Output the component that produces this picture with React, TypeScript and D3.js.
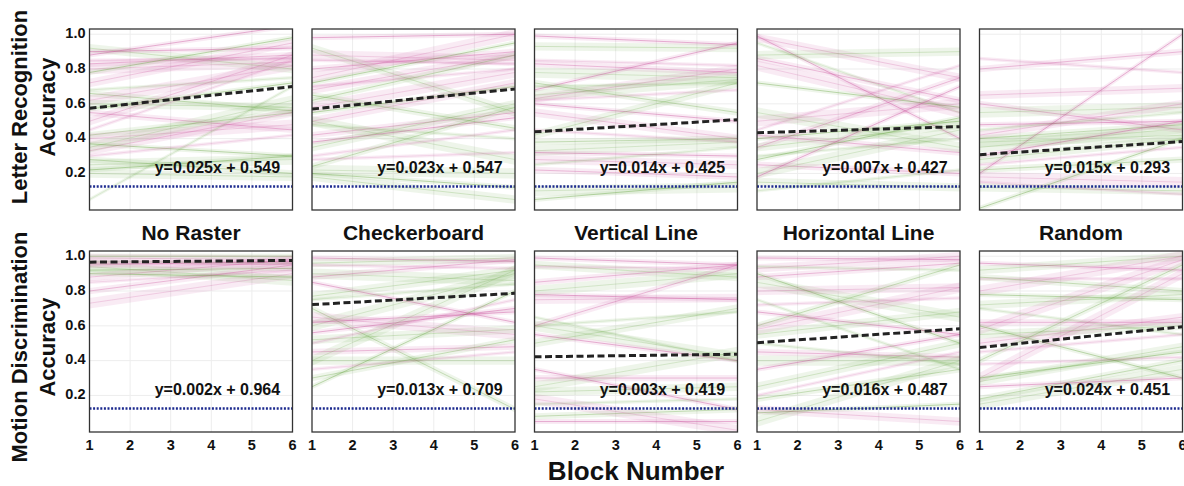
import React from 'react';
import { scaleLinear, line } from 'd3';

const width = 1184;
const height = 486;

const conditions = ['No Raster', 'Checkerboard', 'Vertical Line', 'Horizontal Line', 'Random'];
const taskLines = [
  ['Letter Recognition', 'Accuracy'],
  ['Motion Discrimination', 'Accuracy'],
];
const blocks = [1, 2, 3, 4, 5, 6];
const yTicks = [0.2, 0.4, 0.6, 0.8, 1.0];
const fitSlopes = [
  [0.025, 0.023, 0.014, 0.007, 0.015],
  [0.002, 0.013, 0.003, 0.016, 0.024],
];
const fitIntercepts = [
  [0.549, 0.547, 0.425, 0.427, 0.293],
  [0.964, 0.709, 0.419, 0.487, 0.451],
];
const chanceLevel = 0.125;

// per participant trend: [accuracy at block 1, accuracy at block 6, group]
type Trend = [number, number, string];

const lrNoRaster: Trend[] = [
  [0.88, 1.05, 'p'], [0.92, 0.8, 'g'], [0.85, 0.86, 'p'], [0.83, 0.88, 'p'], [0.8, 0.84, 'p'],
  [0.78, 0.98, 'g'], [0.72, 0.95, 'p'], [0.68, 0.75, 'g'], [0.66, 0.56, 'g'], [0.62, 0.82, 'p'],
  [0.57, 0.72, 'g'], [0.5, 0.88, 'p'], [0.45, 0.85, 'p'], [0.42, 0.55, 'g'], [0.4, 0.48, 'p'],
  [0.37, 0.3, 'g'], [0.33, 0.55, 'p'], [0.3, 0.42, 'p'], [0.28, 0.2, 'g'], [0.25, 0.28, 'g'],
  [0.22, 0.3, 'g'], [0.2, 0.18, 'g'], [0.05, 0.7, 'g'], [0.55, 0.45, 'p'], [0.35, 0.62, 'g'],
  [0.9, 0.92, 'p'], [0.6, 0.58, 'g'],
];
const lrCheckerboard: Trend[] = [
  [0.98, 1.0, 'p'], [0.92, 0.55, 'g'], [0.85, 0.83, 'p'], [0.8, 0.9, 'p'], [0.75, 1.0, 'p'],
  [0.72, 0.95, 'g'], [0.68, 0.88, 'p'], [0.7, 0.8, 'p'], [0.62, 0.88, 'g'], [0.58, 0.78, 'p'],
  [0.55, 0.7, 'g'], [0.5, 0.72, 'p'], [0.48, 0.4, 'g'], [0.42, 0.55, 'p'], [0.5, 0.28, 'g'],
  [0.38, 0.52, 'p'], [0.35, 0.6, 'g'], [0.3, 0.45, 'p'], [0.24, 0.58, 'g'], [0.22, 0.2, 'g'],
  [0.2, 0.12, 'g'], [0.18, 0.05, 'g'], [0.28, 0.32, 'p'], [0.65, 0.46, 'g'], [0.88, 0.85, 'p'],
];
const lrVertical: Trend[] = [
  [0.99, 0.94, 'p'], [0.93, 0.92, 'g'], [0.85, 0.82, 'p'], [0.83, 0.78, 'p'], [0.78, 0.75, 'g'],
  [0.68, 0.95, 'p'], [0.63, 0.8, 'p'], [0.62, 0.68, 'p'], [0.72, 0.55, 'g'], [0.65, 0.74, 'g'],
  [0.6, 0.5, 'p'], [0.42, 0.72, 'g'], [0.45, 0.38, 'p'], [0.38, 0.4, 'g'], [0.33, 0.38, 'g'],
  [0.32, 0.3, 'p'], [0.28, 0.25, 'p'], [0.25, 0.35, 'g'], [0.22, 0.18, 'p'], [0.1, 0.12, 'g'],
  [0.05, 0.15, 'g'], [0.55, 0.4, 'p'], [0.7, 0.72, 'g'],
];
const lrHorizontal: Trend[] = [
  [0.99, 0.4, 'p'], [0.98, 0.75, 'p'], [0.95, 0.55, 'g'], [0.86, 0.62, 'p'], [0.82, 0.55, 'p'],
  [0.72, 0.58, 'g'], [0.88, 0.9, 'g'], [0.45, 0.82, 'p'], [0.35, 0.75, 'p'], [0.5, 0.6, 'p'],
  [0.4, 0.5, 'g'], [0.35, 0.48, 'g'], [0.3, 0.4, 'g'], [0.25, 0.2, 'p'], [0.2, 0.45, 'g'],
  [0.18, 0.7, 'p'], [0.15, 0.12, 'g'], [0.1, 0.22, 'g'], [0.42, 0.32, 'p'], [0.55, 0.35, 'g'],
  [0.28, 0.52, 'g'],
];
const lrRandom: Trend[] = [
  [0.2, 1.0, 'p'], [0.65, 0.69, 'p'], [0.86, 0.78, 'p'], [0.6, 0.45, 'p'], [0.55, 0.58, 'g'],
  [0.48, 0.5, 'p'], [0.42, 0.6, 'p'], [0.45, 0.55, 'g'], [0.4, 0.48, 'g'], [0.35, 0.46, 'g'],
  [0.3, 0.5, 'p'], [0.28, 0.4, 'g'], [0.25, 0.35, 'p'], [0.22, 0.28, 'g'], [0.18, 0.15, 'p'],
  [0.0, 0.4, 'g'], [0.12, 0.1, 'g'], [0.15, 0.08, 'p'], [0.8, 0.9, 'p'], [0.38, 0.42, 'g'],
];
const mdNoRaster: Trend[] = [
  [1.0, 1.0, 'g'], [0.99, 0.98, 'p'], [0.97, 0.96, 'g'], [0.95, 0.97, 'p'], [0.94, 0.86, 'g'],
  [0.92, 0.93, 'g'], [0.88, 0.98, 'p'], [0.85, 0.92, 'p'], [0.8, 0.95, 'p'], [0.73, 0.9, 'p'],
  [0.9, 0.88, 'g'], [0.96, 0.95, 'p'],
];
const mdCheckerboard: Trend[] = [
  [0.99, 0.97, 'p'], [0.96, 0.99, 'g'], [0.95, 0.93, 'p'], [0.88, 0.98, 'p'], [0.9, 0.86, 'g'],
  [0.85, 0.62, 'p'], [0.77, 0.92, 'g'], [0.75, 0.84, 'g'], [0.7, 0.12, 'g'], [0.6, 0.9, 'g'],
  [0.56, 0.7, 'p'], [0.52, 0.58, 'g'], [0.5, 0.75, 'p'], [0.45, 0.48, 'p'], [0.4, 0.92, 'g'],
  [0.25, 0.8, 'g'], [0.4, 0.4, 'g'], [0.35, 0.45, 'p'], [0.3, 0.52, 'g'], [0.65, 0.55, 'p'],
  [0.62, 0.68, 'p'],
];
const mdVertical: Trend[] = [
  [0.99, 0.95, 'p'], [0.95, 0.88, 'g'], [0.94, 0.93, 'p'], [0.85, 0.95, 'p'], [0.8, 0.9, 'g'],
  [0.78, 0.75, 'p'], [0.75, 0.76, 'p'], [0.6, 0.68, 'g'], [0.6, 0.95, 'p'], [0.6, 0.42, 'g'],
  [0.55, 0.4, 'p'], [0.5, 0.7, 'g'], [0.65, 0.4, 'g'], [0.3, 0.3, 'p'], [0.25, 0.45, 'g'],
  [0.35, 0.12, 'p'], [0.22, 0.25, 'g'], [0.15, 0.18, 'g'], [0.08, 0.12, 'g'], [0.18, 0.0, 'p'],
  [0.05, 0.05, 'p'],
];
const mdHorizontal: Trend[] = [
  [0.99, 0.98, 'p'], [0.93, 1.0, 'p'], [0.94, 0.92, 'g'], [0.88, 0.96, 'p'], [0.85, 0.65, 'g'],
  [0.9, 0.5, 'g'], [0.8, 0.82, 'p'], [0.72, 0.76, 'p'], [0.6, 0.95, 'g'], [0.58, 0.82, 'p'],
  [0.68, 0.55, 'p'], [0.55, 0.68, 'g'], [0.5, 0.38, 'g'], [0.45, 0.42, 'p'], [0.4, 0.4, 'g'],
  [0.35, 0.55, 'p'], [0.25, 0.5, 'g'], [0.2, 0.45, 'p'], [0.18, 0.35, 'g'], [0.05, 0.4, 'g'],
  [0.1, 0.15, 'g'], [0.12, 0.05, 'p'], [0.75, 0.35, 'g'],
];
const mdRandom: Trend[] = [
  [0.96, 0.92, 'p'], [0.92, 1.0, 'g'], [0.87, 0.87, 'p'], [0.88, 0.8, 'g'], [0.8, 1.0, 'p'],
  [0.78, 0.75, 'g'], [0.72, 0.78, 'g'], [0.7, 0.55, 'g'], [0.62, 0.62, 'p'], [0.58, 0.98, 'p'],
  [0.6, 0.3, 'g'], [0.5, 0.65, 'p'], [0.45, 0.55, 'p'], [0.4, 0.95, 'g'], [0.3, 0.9, 'p'],
  [0.3, 0.45, 'g'], [0.28, 0.48, 'g'], [0.38, 0.42, 'p'], [0.18, 0.4, 'g'], [0.15, 0.35, 'g'],
  [0.25, 0.3, 'p'], [0.55, 0.6, 'g'],
];

const trends = [
  [lrNoRaster, lrCheckerboard, lrVertical, lrHorizontal, lrRandom],
  [mdNoRaster, mdCheckerboard, mdVertical, mdHorizontal, mdRandom],
];

const panelLeft = 89.5;
const panelStep = 222.5;
const panelW = 203;
const panelH = 181;
const rowTops = [29, 251];
const font = "'Liberation Sans', Arial, Helvetica, sans-serif";
const groupColor: Record<string, string> = { p: '#c94a98', g: '#66a640' };
const lineAlpha = [0.4, 0.24, 0.15, 0.32, 0.2];
const bandHalf = [0.014, 0.024, 0.01, 0.018, 0.03];

function Panel({ row, col }: { row: number; col: number }) {
  const left = panelLeft + col * panelStep;
  const top = rowTops[row];
  const x = scaleLinear().domain([1, 6]).range([0, panelW]);
  const y = scaleLinear().domain([-0.01, 1.03]).range([panelH, 0]);
  const path = line<[number, number]>()
    .x((d) => x(d[0]))
    .y((d) => y(d[1]));
  const slope = fitSlopes[row][col];
  const intercept = fitIntercepts[row][col];
  const clipId = `clip-${row}-${col}`;

  return (
    <g transform={`translate(${left},${top})`}>
      <clipPath id={clipId}>
        <rect x={0} y={0} width={panelW} height={panelH} />
      </clipPath>
      <rect width={panelW} height={panelH} fill="#fff" />
      {blocks.slice(1, -1).map((b) => (
        <line key={'gx' + b} x1={x(b)} x2={x(b)} y1={0} y2={panelH} stroke="#ededed" strokeWidth={1} />
      ))}
      {yTicks.map((t) => (
        <line key={'gy' + t} x1={0} x2={panelW} y1={y(t)} y2={y(t)} stroke="#ededed" strokeWidth={1} />
      ))}
      <g clipPath={`url(#${clipId})`}>
        {trends[row][col].map((d, i) => {
          const w = bandHalf[i % bandHalf.length];
          const band: [number, number][] = [
            [1, d[0] + w],
            [6, d[1] + w],
            [6, d[1] - w],
            [1, d[0] - w],
          ];
          return (
            <g key={i}>
              <path d={path(band) + 'Z'} fill={groupColor[d[2]]} fillOpacity={0.11} />
              <path
                d={path([[1, d[0]], [6, d[1]]]) || ''}
                stroke={groupColor[d[2]]}
                strokeOpacity={lineAlpha[i % lineAlpha.length]}
                strokeWidth={1}
                fill="none"
              />
            </g>
          );
        })}
        <line
          x1={0}
          x2={panelW}
          y1={y(chanceLevel)}
          y2={y(chanceLevel)}
          stroke="#1c2a8f"
          strokeWidth={2.6}
          strokeDasharray="2,1.6"
        />
        <path
          d={path([[1, slope * 1 + intercept], [6, slope * 6 + intercept]]) || ''}
          stroke="#222"
          strokeWidth={3}
          strokeDasharray="7,3.5"
          fill="none"
        />
      </g>
      <text
        x={x(4.15)}
        y={y(0.225)}
        textAnchor="middle"
        dominantBaseline="middle"
        fontFamily={font}
        fontWeight="bold"
        fontSize={16}
        fill="#111"
      >
        {`y=${slope.toFixed(3)}x + ${intercept.toFixed(3)}`}
      </text>
      <rect width={panelW} height={panelH} fill="none" stroke="#333" strokeWidth={1.3} />
      {col === 0 &&
        yTicks.map((t) => (
          <text
            key={'ty' + t}
            x={-4}
            y={y(t)}
            textAnchor="end"
            dominantBaseline="middle"
            fontFamily={font}
            fontWeight="bold"
            fontSize={14.5}
            fill="#111"
          >
            {t.toFixed(1)}
          </text>
        ))}
      {row === 1 &&
        blocks.map((b) => (
          <text
            key={'tx' + b}
            x={x(b)}
            y={panelH + 18}
            textAnchor="middle"
            fontFamily={font}
            fontWeight="bold"
            fontSize={14.5}
            fill="#111"
          >
            {b}
          </text>
        ))}
    </g>
  );
}

export default function App() {
  const rowLabelY = [107, 347];
  return (
    <svg
      width={width}
      height={height}
      style={{ position: 'absolute', left: 0, top: 0, display: 'block', background: '#fff' }}
    >
      {[0, 1].map((row) =>
        conditions.map((c, col) => <Panel key={`${row}-${col}`} row={row} col={col} />)
      )}
      {conditions.map((c, col) => (
        <text
          key={c}
          x={panelLeft + col * panelStep + panelW / 2}
          y={240}
          textAnchor="middle"
          fontFamily={font}
          fontWeight="bold"
          fontSize={21}
          fill="#111"
        >
          {c}
        </text>
      ))}
      {taskLines.map((lines, row) => (
        <text
          key={lines[0]}
          transform={`translate(27,${rowLabelY[row]}) rotate(-90)`}
          textAnchor="middle"
          fontFamily={font}
          fontWeight="bold"
          fontSize={22}
          fill="#111"
        >
          <tspan x={0} dy={0}>{lines[0]}</tspan>
          <tspan x={0} dy={28}>{lines[1]}</tspan>
        </text>
      ))}
      <text
        x={panelLeft + 2 * panelStep + panelW / 2}
        y={480}
        textAnchor="middle"
        fontFamily={font}
        fontWeight="bold"
        fontSize={26}
        fill="#111"
      >
        Block Number
      </text>
    </svg>
  );
}
